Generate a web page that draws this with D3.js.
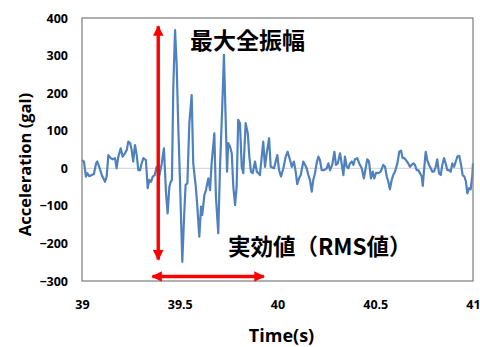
<!DOCTYPE html>
<html><head><meta charset="utf-8">
<script src="https://cdn.jsdelivr.net/npm/d3@7"></script>
<style>
html,body{margin:0;padding:0;background:#fff;}
svg{display:block;}
</style></head>
<body><svg id="c" width="480" height="347"></svg>
<script>
// ---- data ----
const times = [39.000,39.010,39.020,39.027,39.037,39.050,39.061,39.072,39.078,39.088,39.101,39.118,39.126,39.135,39.147,39.157,39.169,39.177,39.186,39.198,39.208,39.220,39.229,39.237,39.246,39.254,39.262,39.271,39.280,39.288,39.297,39.305,39.314,39.327,39.336,39.344,39.353,39.362,39.372,39.382,39.395,39.408,39.419,39.430,39.438,39.447,39.454,39.460,39.467,39.476,39.484,39.493,39.501,39.513,39.523,39.530,39.539,39.549,39.561,39.569,39.582,39.590,39.600,39.609,39.615,39.626,39.634,39.646,39.655,39.663,39.677,39.685,39.697,39.706,39.718,39.726,39.735,39.742,39.748,39.757,39.766,39.774,39.783,39.791,39.799,39.808,39.817,39.825,39.837,39.848,39.856,39.864,39.873,39.885,39.894,39.902,39.910,39.927,39.936,39.945,39.957,39.965,39.982,39.999,40.008,40.018,40.030,40.042,40.052,40.064,40.073,40.084,40.093,40.101,40.110,40.119,40.132,40.141,40.149,40.158,40.166,40.175,40.183,40.192,40.200,40.209,40.217,40.226,40.238,40.252,40.260,40.269,40.280,40.291,40.299,40.308,40.320,40.337,40.345,40.354,40.362,40.371,40.380,40.388,40.396,40.408,40.418,40.431,40.442,40.459,40.468,40.478,40.487,40.495,40.504,40.516,40.528,40.541,40.550,40.559,40.567,40.575,40.584,40.592,40.601,40.613,40.623,40.632,40.640,40.649,40.657,40.669,40.678,40.686,40.695,40.703,40.712,40.720,40.729,40.738,40.743,40.749,40.758,40.766,40.775,40.784,40.792,40.800,40.809,40.817,40.826,40.835,40.843,40.852,40.860,40.869,40.877,40.886,40.894,40.903,40.912,40.920,40.930,40.939,40.947,40.956,40.964,40.971,40.980,40.988,40.996,41.000];
const accel = [22,18,-22,-13,-21,-18,-15,13,18,4,-18,-36,-22,35,27,24,27,0,31,53,31,40,49,71,67,49,18,62,35,-5,-5,13,27,22,-53,-31,-36,-22,-18,4,-22,13,53,-67,-120,-49,-36,-31,217,368,279,102,-31,-249,-120,-44,-40,120,195,13,-49,-102,-182,-102,-124,-71,-58,-27,-58,13,93,-76,-173,4,173,302,129,-9,67,58,40,-49,-98,-49,129,120,4,-13,120,93,31,-9,-13,18,-9,-13,-18,71,4,41,80,4,0,35,-5,-22,0,31,44,22,4,18,-9,-42,-27,-18,18,9,0,-18,-31,-62,-31,-13,13,31,22,-5,-5,0,13,-5,9,44,9,13,40,-18,31,4,0,13,18,9,24,27,13,0,-27,24,18,-27,-9,-27,-12,-13,-9,9,4,-22,-36,-56,-31,-18,-9,13,44,47,27,27,22,13,4,9,13,9,-5,-5,-13,-22,-47,-9,44,22,9,0,-9,-9,3,24,-13,-18,9,27,13,-5,-5,-9,13,4,18,31,33,9,-18,-22,-36,-67,-53,-56,-22,13];
const xTicks = [39, 39.5, 40, 40.5, 41];
const xTickLabels = ["39", "39.5", "40", "40.5", "41"];
const yTicks = [-300, -200, -100, 0, 100, 200, 300, 400];
const xTitle = "Time(s)";
const yTitle = "Acceleration (gal)";
const peakLabel = "最大全振幅";
const rmsLabel = "実効値（RMS値）";
const peakArrowTime = [39.39];
const peakArrowRange = [378, -243];
const rmsArrowSpan = [39.36, 39.93];
const rmsArrowLevel = [-288];

// ---- layout ----
const svg = d3.select("#c");
const L = 82, R = 473, T = 18, B = 281;
const x = d3.scaleLinear().domain([39, 41]).range([L, R]);
const y = d3.scaleLinear().domain([-300, 400]).range([B, T]);
const tickFont = "'Open Sans', 'Liberation Sans', sans-serif";

// zero gridline
svg.append("line").attr("x1", L).attr("x2", R).attr("y1", y(0)).attr("y2", y(0))
  .attr("stroke", "#d9d9d9").attr("stroke-width", 1.2);

// axes (labels only)
const xa = svg.append("g").attr("transform", `translate(0,${B})`)
  .call(d3.axisBottom(x).tickValues(xTicks).tickSize(0).tickPadding(19)
    .tickFormat((d, i) => xTickLabels[i]));
const ya = svg.append("g").attr("transform", `translate(${L},0)`)
  .call(d3.axisLeft(y).tickValues(yTicks).tickSize(0).tickPadding(14));
[xa, ya].forEach(g => {
  g.select(".domain").remove();
  g.selectAll("text").attr("font-family", tickFont).attr("font-weight", "bold")
    .attr("font-size", 12.5).attr("fill", "#000");
});

// line
const line = d3.line().x((d, i) => x(times[i])).y(d => y(d));
svg.append("path").datum(accel).attr("d", line).attr("fill", "none")
  .attr("stroke", "#4f81bd").attr("stroke-width", 2.2).attr("stroke-linejoin", "round");

// frame
svg.append("rect").attr("x", L).attr("y", T).attr("width", R - L).attr("height", B - T)
  .attr("fill", "none").attr("stroke", "#868686").attr("stroke-width", 1.3);

// arrows
const defs = svg.append("defs");
defs.append("marker").attr("id", "ah").attr("viewBox", "0 0 10 10")
  .attr("refX", 9).attr("refY", 5).attr("markerWidth", 3.3).attr("markerHeight", 3.1)
  .attr("markerUnits", "strokeWidth").attr("orient", "auto-start-reverse")
  .append("path").attr("d", "M0,0 L10,5 L0,10 Z").attr("fill", "#ff0000");

svg.append("line")
  .attr("x1", x(peakArrowTime[0])).attr("x2", x(peakArrowTime[0]))
  .attr("y1", y(peakArrowRange[0])).attr("y2", y(peakArrowRange[1]))
  .attr("stroke", "#ff0000").attr("stroke-width", 3.4)
  .attr("marker-start", "url(#ah)").attr("marker-end", "url(#ah)");
svg.append("line")
  .attr("x1", x(rmsArrowSpan[0])).attr("x2", x(rmsArrowSpan[1]))
  .attr("y1", y(rmsArrowLevel[0])).attr("y2", y(rmsArrowLevel[0]))
  .attr("stroke", "#ff0000").attr("stroke-width", 3.4)
  .attr("marker-start", "url(#ah)").attr("marker-end", "url(#ah)");

// annotations
const cjk = "'Noto Sans CJK JP', 'Noto Sans', sans-serif";
svg.append("text").attr("x", 190).attr("y", 39).attr("dominant-baseline", "central")
  .attr("font-family", cjk).attr("font-weight", "bold").attr("font-size", 23)
  .attr("fill", "#000").text(peakLabel);
svg.append("text").attr("x", 228).attr("y", 245).attr("dominant-baseline", "central")
  .attr("font-family", cjk).attr("font-weight", "bold").attr("font-size", 22.5)
  .attr("fill", "#000").text(rmsLabel);

// titles
svg.append("text").attr("x", (L + R) / 2 + 4).attr("y", 335).attr("dominant-baseline", "central")
  .attr("text-anchor", "middle").attr("font-family", tickFont).attr("font-weight", "bold")
  .attr("font-size", 18).attr("fill", "#000").text(xTitle);
svg.append("text").attr("transform", `translate(24,${(T + B) / 2 + 15}) rotate(-90)`)
  .attr("dominant-baseline", "central").attr("text-anchor", "middle")
  .attr("font-family", tickFont).attr("font-weight", "bold").attr("font-size", 16.5)
  .attr("fill", "#000").text(yTitle);
</script></body></html>
